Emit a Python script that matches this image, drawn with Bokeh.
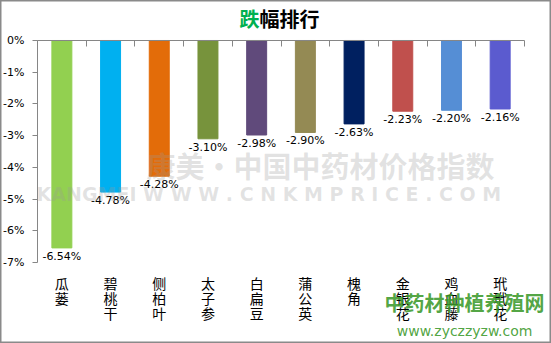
from bokeh.plotting import figure
from bokeh.models import (ColumnDataSource, Range1d, LinearAxis, FixedTicker,
                          PrintfTickFormatter, CustomJSTickFormatter, Label)
from bokeh.core.properties import value
from bokeh.embed import file_html
from bokeh.resources import INLINE

# ---- data ----
categories = ["瓜蒌", "碧桃干", "侧柏叶", "太子参", "白扁豆",
              "蒲公英", "槐角", "金银花", "鸡血藤", "玳玳花"]
values = [-6.54, -4.78, -4.28, -3.10, -2.98, -2.90, -2.63, -2.23, -2.20, -2.16]
colors = ["#92D050", "#00B0F0", "#E36C09", "#77933C", "#604A7B",
          "#948A54", "#002060", "#C0504D", "#558ED5", "#5B5BCF"]
y_ticks = [0, -1, -2, -3, -4, -5, -6, -7]
title_parts = ["跌", "幅排行"]

n = len(categories)
src = ColumnDataSource(dict(
    x=[i + 0.5 for i in range(n)],
    val=values, color=colors,
    label=[f"{v:.2f}%" for v in values],
    cat=["\n".join(c) for c in categories],
    base=[y_ticks[-1]] * n,
))

# frame spans the whole canvas; axes are pinned inside it
p = figure(width=551, height=343, output_backend="svg", toolbar_location=None,
           x_range=Range1d(-0.76, n + 0.554), y_range=Range1d(-9.554, 1.261),
           x_axis_location=None, y_axis_location=None, min_border=0)
p.outline_line_color = "#8a8a8a"
p.outline_line_width = 2
p.background_fill_color = "white"
p.border_fill_color = "white"
p.xgrid.visible = False
p.ygrid.visible = False

# bars
p.vbar(x="x", top="val", bottom=0, width=0.41, color="color", source=src)

# value labels under the bar ends
p.text(x="x", y="val", text="label", source=src, text_align="center",
       text_baseline="top", y_offset=2, text_font_size="11px",
       text_font=value("DejaVu Sans"), text_color="#000000")

# category labels, stacked vertically under the plot area
p.text(x="x", y="base", text="cat", source=src, text_align="center",
       text_baseline="top", y_offset=11, text_font_size="14px",
       text_line_height=0.73,
       text_font=value("Noto Sans CJK SC"), text_color="#000000")

# y axis (0% .. -7%)
ya = LinearAxis(ticker=FixedTicker(ticks=y_ticks),
                formatter=PrintfTickFormatter(format="%d%%"),
                fixed_location=0, bounds=(y_ticks[-1], y_ticks[0]),
                axis_line_color="#868686", major_tick_line_color="#868686",
                major_tick_in=0, major_tick_out=5, minor_tick_line_color=None,
                major_label_standoff=8, major_label_text_font="DejaVu Sans",
                major_label_text_font_size="11px",
                major_label_text_color="#000000")
p.add_layout(ya, "left")

# category axis line at 0% with boundary ticks
xa = LinearAxis(ticker=FixedTicker(ticks=list(range(n + 1))),
                formatter=CustomJSTickFormatter(code="return ''"),
                fixed_location=0, bounds=(0, n),
                axis_line_color="#868686", major_tick_line_color="#868686",
                major_tick_in=6, major_tick_out=0, minor_tick_line_color=None,
                major_label_standoff=0)
p.add_layout(xa, "above")

# two-colour title
p.add_layout(Label(x=4.56, y=0.678, text=title_parts[0], text_align="right",
                   text_baseline="middle", text_font="Noto Sans CJK SC",
                   text_font_size="20px", text_font_style="bold",
                   text_color="#00B050"))
p.add_layout(Label(x=4.56, y=0.678, text=title_parts[1], text_align="left",
                   text_baseline="middle", text_font="Noto Sans CJK SC",
                   text_font_size="20px", text_font_style="bold",
                   text_color="#000000"))

# watermarks
p.add_layout(Label(x=5.81, y=-3.94, text="康美·中国中药材价格指数",
                   text_align="center", text_baseline="middle",
                   text_font="Noto Sans CJK SC", text_font_size="29px",
                   text_font_style="bold", text_color="#9a9a9a", text_alpha=0.28))
p.add_layout(Label(x=4.82, y=-4.83, text="KANGMEI  W W W . C N K M P R I C E . C O M",
                   text_align="center", text_baseline="middle",
                   text_font="DejaVu Sans", text_font_size="19px",
                   text_font_style="bold", text_color="#9a9a9a", text_alpha=0.28))
p.add_layout(Label(x=8.77, y=-8.26, text="中药材种植养殖网",
                   text_align="center", text_baseline="middle",
                   text_font="Noto Sans CJK SC", text_font_size="20px",
                   text_font_style="bold", text_color="#3C9A2C", text_alpha=0.9))
p.add_layout(Label(x=8.77, y=-9.145, text="www.zyczzyzw.com",
                   text_align="center", text_baseline="middle",
                   text_font="DejaVu Sans", text_font_size="14px",
                   text_color="#3C9A2C", text_alpha=0.9))

open("out.html", "w").write(file_html(p, INLINE))
